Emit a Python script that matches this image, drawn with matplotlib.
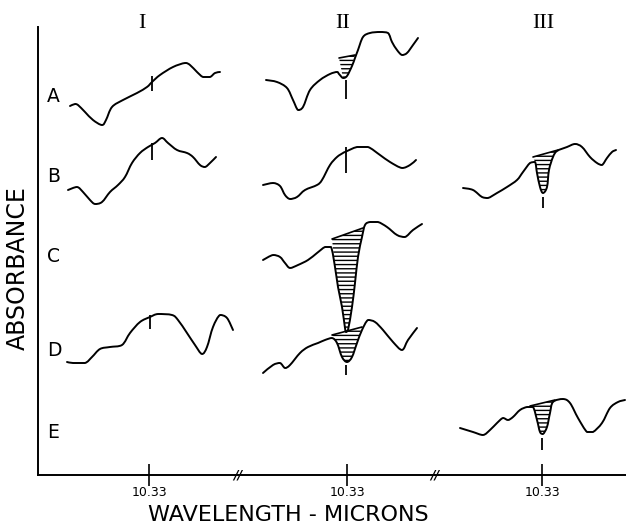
import matplotlib
matplotlib.use("Agg")
import matplotlib.pyplot as plt
from matplotlib.path import Path
from matplotlib.patches import PathPatch
import numpy as np

plt.rcParams['hatch.linewidth'] = 1.0
plt.rcParams['hatch.color'] = 'black'

# ---- data (x: chart wavelength position, y: absorbance position, inverted axis) ----
panel_ticks = [149, 347, 542]
tick_labels = ["10.33", "10.33", "10.33"]
panel_names = ["I", "II", "III"]
row_names = ["A", "B", "C", "D", "E"]

I_A_x = [70, 75, 78, 85, 93, 102, 106, 112, 123, 137, 147, 152, 160, 173, 185, 190, 197, 203, 210, 215, 220]
I_A_y = [106, 104, 105, 112, 120, 125, 120, 107, 100, 93, 87, 82, 75, 67, 63, 65, 72, 77, 77, 73, 72]

I_B_x = [68, 77, 83, 90, 95, 102, 110, 118, 125, 132, 140, 148, 155, 162, 168, 177, 187, 193, 200, 205, 210, 216]
I_B_y = [190, 187, 192, 200, 204, 202, 192, 185, 177, 163, 153, 147, 143, 138, 143, 150, 153, 157, 165, 167, 163, 157]

I_D_x = [67, 73, 85, 92, 100, 110, 122, 130, 140, 150, 158, 172, 178, 187, 195, 202, 207, 213, 220, 227, 233]
I_D_y = [362, 363, 363, 357, 349, 347, 345, 333, 322, 317, 314, 315, 320, 333, 345, 354, 347, 327, 315, 318, 330]

II_A_x = [266, 277, 287, 293, 298, 303, 310, 320, 330, 337, 339, 343, 347, 352, 355, 358, 363, 370, 380, 388, 392, 397, 402, 407, 413, 418]
II_A_y = [80, 82, 88, 100, 110, 107, 90, 80, 74, 72, 74, 78, 76, 66, 58, 50, 37, 33, 32, 33, 42, 50, 55, 53, 45, 38]

II_B_x = [263, 273, 280, 285, 290, 297, 305, 317, 322, 330, 337, 343, 345, 357, 368, 380, 390, 402, 410, 416]
II_B_y = [185, 183, 186, 195, 199, 197, 190, 185, 180, 165, 157, 153, 152, 147, 147, 155, 162, 168, 165, 160]

II_C_x = [263, 273, 280, 285, 290, 298, 308, 317, 325, 331, 335, 338, 342, 345, 346, 348, 352, 355, 358, 362, 365, 370, 378, 387, 397, 405, 413, 422]
II_C_y = [260, 255, 257, 263, 268, 265, 260, 253, 247, 247, 267, 287, 307, 328, 332, 330, 307, 283, 257, 237, 225, 222, 222, 227, 235, 237, 230, 224]

II_D_x = [263, 273, 280, 285, 290, 300, 308, 318, 325, 332, 337, 342, 347, 352, 357, 362, 368, 375, 383, 393, 402, 408, 417]
II_D_y = [373, 365, 363, 368, 365, 353, 347, 343, 340, 338, 343, 357, 362, 357, 343, 330, 320, 322, 330, 342, 350, 340, 328]

III_B_x = [463, 473, 482, 488, 497, 507, 517, 523, 530, 535, 537, 540, 543, 547, 549, 553, 557, 567, 575, 582, 590, 597, 602, 607, 612, 616]
III_B_y = [188, 190, 197, 198, 193, 187, 180, 172, 163, 162, 173, 187, 193, 187, 170, 157, 151, 147, 144, 147, 157, 163, 165, 158, 152, 150]

III_E_x = [460, 473, 483, 490, 497, 503, 508, 513, 520, 527, 533, 537, 540, 543, 547, 550, 553, 563, 570, 578, 587, 593, 602, 610, 618, 625]
III_E_y = [428, 432, 435, 430, 423, 418, 420, 417, 410, 407, 407, 420, 432, 434, 427, 413, 402, 399, 403, 418, 432, 432, 423, 408, 402, 400]

curves = [(I_A_x, I_A_y), (I_B_x, I_B_y), (I_D_x, I_D_y),
          (II_A_x, II_A_y), (II_B_x, II_B_y), (II_C_x, II_C_y), (II_D_x, II_D_y),
          (III_B_x, III_B_y), (III_E_x, III_E_y)]

# hatched absorption bands: (curve, baseline left x, y, right x, y)
hatch_curves = [(II_A_x, II_A_y), (II_C_x, II_C_y), (II_D_x, II_D_y), (III_B_x, III_B_y), (III_E_x, III_E_y)]
hatch_left_x = [339, 332, 332, 533, 530]
hatch_left_y = [58, 239, 335, 157, 406]
hatch_right_x = [355, 363, 362, 558, 555]
hatch_right_y = [55, 228, 327, 150, 400]

# 10.33 marks on each trace
mark_x = [152, 152, 150, 346, 346, 346, 543, 542]
mark_top = [76, 143, 315, 80, 147, 365, 197, 438]
mark_bot = [91, 160, 329, 99, 173, 375, 208, 450]


def bezier_segments(x, y, i0, i1):
    """Smooth pen-like rendering of points i0..i1 as cubic Bezier pieces (no overshoot)."""
    P = np.column_stack([x, y]).astype(float)
    n = len(P)
    verts, codes = [], []
    for i in range(i0, i1):
        p0 = P[max(i - 1, 0)]
        p1 = P[i]
        p2 = P[i + 1]
        p3 = P[min(i + 2, n - 1)]
        c1 = p1 + (p2 - p0) / 6.0
        c2 = p2 - (p3 - p1) / 6.0
        lo, hi = min(p1[1], p2[1]), max(p1[1], p2[1])
        c1[1] = min(max(c1[1], lo), hi)
        c2[1] = min(max(c2[1], lo), hi)
        verts += [tuple(c1), tuple(c2), tuple(p2)]
        codes += [Path.CURVE4] * 3
    return verts, codes


# ---- layout ----
W, H = 626, 524
fig = plt.figure(figsize=(W / 100, H / 100), dpi=100)
x0, x1, ytop, ybot = 38, 626, 27, 475
ax = fig.add_axes([x0 / W, (H - ybot) / H, (x1 - x0) / W, (ybot - ytop) / H])
ax.set_xlim(x0, x1)
ax.set_ylim(ybot, ytop)
for s in ["top", "right"]:
    ax.spines[s].set_visible(False)
for s in ["left", "bottom"]:
    ax.spines[s].set_linewidth(1.4)
ax.set_yticks([])
ax.set_xticks(panel_ticks)
ax.set_xticklabels(tick_labels, fontsize=9)
ax.tick_params(axis="x", direction="inout", length=16, width=1.2, pad=0)

for cx, cy in curves:
    v, c = bezier_segments(cx, cy, 0, len(cx) - 1)
    path = Path([(cx[0], cy[0])] + v, [Path.MOVETO] + c)
    ax.add_patch(PathPatch(path, facecolor="none", edgecolor="black", lw=1.4,
                           joinstyle="round", capstyle="round"))

for (cx, cy), lx, ly, rx, ry in zip(hatch_curves, hatch_left_x, hatch_left_y, hatch_right_x, hatch_right_y):
    idx = [i for i, a in enumerate(cx) if lx < a < rx]
    i0, i1 = idx[0], idx[-1]
    v, c = bezier_segments(cx, cy, i0, i1)
    verts = [(lx, ly), (cx[i0], cy[i0])] + v + [(rx, ry), (lx, ly)]
    codes = [Path.MOVETO, Path.LINETO] + c + [Path.LINETO, Path.CLOSEPOLY]
    ax.add_patch(PathPatch(Path(verts, codes), facecolor="none", edgecolor="black",
                           hatch="----", lw=0))
    ax.plot([lx, rx], [ly, ry], color="black", lw=1.2, solid_capstyle="round")

ax.vlines(mark_x, mark_top, mark_bot, color="black", lw=1.3)

# break marks
for bx in [238, 435]:
    ax.text(bx, ybot, "//", ha="center", va="center", fontsize=9, style="italic",
            fontweight="bold", clip_on=False)

# panel headers
header_x = [142, 343, 543]
for hx, name in zip(header_x, panel_names):
    ax.text(hx, 23, name, ha="center", va="center",
            fontsize=16, family="Liberation Serif", clip_on=False)

row_y = [97, 177, 257, 350, 433]
for name, ry in zip(row_names, row_y):
    ax.text(47, ry, name, ha="left", va="center", fontsize=13.5)

ax.text(18, 268, "ABSORBANCE", rotation=90, ha="center", va="center", fontsize=17, clip_on=False)
ax.text(288, 515, "WAVELENGTH - MICRONS", ha="center", va="center", fontsize=16, clip_on=False)

fig.savefig("out.png", dpi=100)
